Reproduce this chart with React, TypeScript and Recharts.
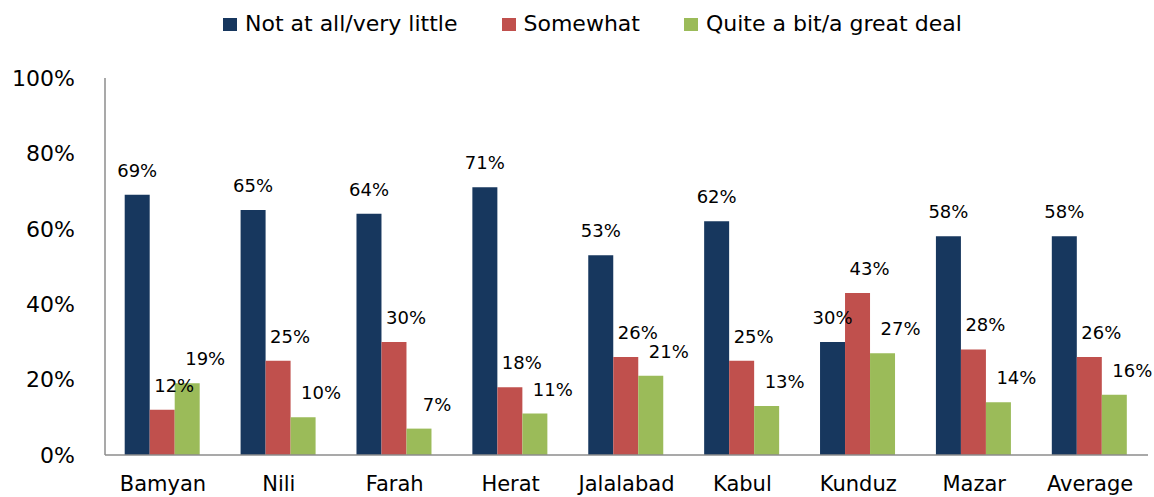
import React from "react";
import { BarChart, Bar, XAxis, YAxis, Legend, LabelList } from "recharts";

const categories = ["Bamyan", "Nili", "Farah", "Herat", "Jalalabad", "Kabul", "Kunduz", "Mazar", "Average"];
const notAtAll = [69, 65, 64, 71, 53, 62, 30, 58, 58];
const somewhat = [12, 25, 30, 18, 26, 25, 43, 28, 26];
const quiteABit = [19, 10, 7, 11, 21, 13, 27, 14, 16];
const yTicks = [0, 20, 40, 60, 80, 100];

const seriesNames = ["Not at all/very little", "Somewhat", "Quite a bit/a great deal"];
const seriesColors = ["#17375E", "#C0504D", "#9BBB59"];

const data = categories.map((c, i) => ({
  name: c,
  s0: notAtAll[i],
  s1: somewhat[i],
  s2: quiteABit[i],
}));

const FONT = "'DejaVu Sans', sans-serif";

const makeLabel = (dx: number) => (props: any) => {
  const { x, y, width, value } = props;
  return (
    <text
      x={Number(x) + Number(width) / 2 + dx}
      y={Number(y) - 18}
      textAnchor="middle"
      fontFamily={FONT}
      fontSize={18}
      fill="#000"
    >
      {value}%
    </text>
  );
};

const LegendContent = () => (
  <div
    style={{
      height: 78,
      boxSizing: "border-box",
      paddingTop: 11,
      paddingLeft: 223,
      display: "flex",
      alignItems: "flex-start",
      fontFamily: FONT,
      fontSize: 22,
      lineHeight: "26px",
      color: "#000",
      whiteSpace: "nowrap",
    }}
  >
    {seriesNames.map((n, i) => (
      <div key={n} style={{ display: "flex", alignItems: "center", marginRight: 44 }}>
        <span style={{ display: "inline-block", width: 14, height: 13, background: seriesColors[i], marginRight: 8 }} />
        <span>{n}</span>
      </div>
    ))}
  </div>
);

export default function App() {
  return (
    <div style={{ position: "absolute", left: 0, top: 0, width: 1154, height: 497, background: "#fff" }}>
      <BarChart
        width={1154}
        height={497}
        data={data}
        margin={{ top: 0, right: 6, left: 0, bottom: 0 }}
        barCategoryGap="17%"
        barGap={0}
      >
        <Legend
          verticalAlign="top"
          align="left"
          content={<LegendContent />}
          wrapperStyle={{ left: 0, top: 0, width: 1154, margin: 0 }}
        />
        <XAxis
          dataKey="name"
          height={42}
          tickLine={false}
          tickSize={0}
          tickMargin={21}
          axisLine={{ stroke: "#8c8c8c", strokeWidth: 1.5 }}
          tick={{ fontFamily: FONT, fontSize: 21, fill: "#000" }}
          interval={0}
        />
        <YAxis
          width={105}
          domain={[0, 100]}
          ticks={yTicks}
          tickFormatter={(v: number) => `${v}%`}
          tickLine={false}
          tickSize={0}
          tickMargin={30}
          axisLine={{ stroke: "#8c8c8c", strokeWidth: 1.5 }}
          tick={{ fontFamily: FONT, fontSize: 22, fill: "#000" }}
        />
        <Bar dataKey="s0" name={seriesNames[0]} fill={seriesColors[0]} isAnimationActive={false}>
          <LabelList dataKey="s0" content={makeLabel(0)} />
        </Bar>
        <Bar dataKey="s1" name={seriesNames[1]} fill={seriesColors[1]} isAnimationActive={false}>
          <LabelList dataKey="s1" content={makeLabel(12)} />
        </Bar>
        <Bar dataKey="s2" name={seriesNames[2]} fill={seriesColors[2]} isAnimationActive={false}>
          <LabelList dataKey="s2" content={makeLabel(18)} />
        </Bar>
      </BarChart>
    </div>
  );
}
